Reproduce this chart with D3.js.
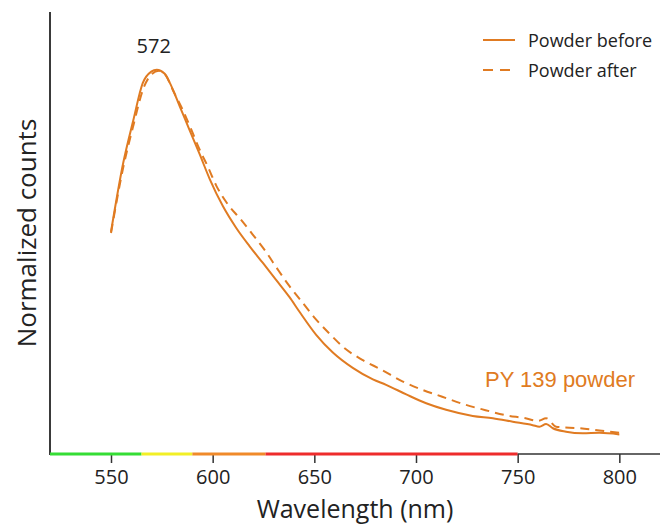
<!DOCTYPE html>
<html>
<head>
<meta charset="utf-8">
<script src="https://cdn.jsdelivr.net/npm/d3@7"></script>
<style>
  body { margin: 0; background: #fff; }
  svg { display: block; }
</style>
</head>
<body>
<div id="chart"></div>
<script>
// spectrum data (wavelength in nm, normalized counts)
var wlBefore  = [550, 556, 561, 565.6, 569.8, 572.5, 576.3, 579, 583.7, 588.7, 593.6, 598.5, 605, 611.6, 618.1, 624.7, 631.2, 637.8, 642.7, 650.9, 659.1, 668.9, 678.8, 685.3, 695.2, 705, 714.8, 727.9, 737.8, 747.6, 757.4, 760.7, 764, 767.3, 773.8, 782, 790.2, 800];
var cntBefore = [0.578, 0.757, 0.869, 0.965, 0.995, 1.0, 0.99, 0.965, 0.906, 0.842, 0.78, 0.716, 0.645, 0.588, 0.541, 0.497, 0.453, 0.408, 0.37, 0.31, 0.264, 0.224, 0.194, 0.18, 0.155, 0.132, 0.115, 0.099, 0.093, 0.084, 0.075, 0.071, 0.078, 0.067, 0.058, 0.054, 0.055, 0.051];

var wlAfter  = [550, 556, 561, 566, 570, 573.5, 577, 580.4, 585.3, 589.4, 593.5, 597.6, 601.7, 607.4, 614, 619.7, 626.2, 631.9, 637.6, 644.2, 650.7, 657.3, 665.4, 673.6, 683.5, 693.3, 703.1, 712.9, 724.4, 734.2, 744, 753.9, 760, 764, 768.9, 780.3, 790.2, 800];
var cntAfter = [0.575, 0.745, 0.855, 0.952, 0.988, 0.997, 0.985, 0.947, 0.895, 0.845, 0.793, 0.748, 0.699, 0.65, 0.609, 0.571, 0.526, 0.481, 0.438, 0.394, 0.351, 0.314, 0.273, 0.245, 0.218, 0.189, 0.167, 0.149, 0.128, 0.114, 0.101, 0.093, 0.086, 0.093, 0.071, 0.067, 0.061, 0.055];

var xTicks = [550, 600, 650, 700, 750, 800];

// visible-light colour bar along the x axis
var bandStart = [520, 565, 590, 626, 750];
var bandEnd   = [565, 590, 626, 750, 820];
var bandColor = ["#35dd35", "#f2ef26", "#f08a2a", "#ee2b2b", "#333333"];

var peakLabel = 572;
var lineColor = "#e07b22";

var width = 660, height = 524;
var margin = { top: 12, right: 0, bottom: 70, left: 50 };

var svg = d3.select("#chart")
  .append("svg")
  .attr("width", width)
  .attr("height", height);

var x = d3.scaleLinear().domain([520, 820]).range([margin.left, width - margin.right]);
var y = d3.scaleLinear().domain([0, 1.15]).range([height - margin.bottom, margin.top]);

var y0 = y(0);

// y axis (no ticks)
svg.append("line")
  .attr("x1", x(520)).attr("x2", x(520))
  .attr("y1", y(1.15)).attr("y2", y0 + 1)
  .style("stroke", "#3a3a3a").style("stroke-width", "2px");

// x axis ticks + labels
var xAxis = d3.axisBottom(x).tickValues(xTicks).tickSize(9).tickPadding(7).tickFormat(d3.format("d"));
var gx = svg.append("g")
  .attr("transform", "translate(0," + y0 + ")")
  .call(xAxis);
gx.select(".domain").remove();
gx.selectAll(".tick line").style("stroke", "#333").style("stroke-width", "1.5px");
gx.selectAll(".tick text")
  .style("font-family", "'Open Sans', sans-serif")
  .style("font-size", "20px")
  .style("fill", "#222");

// coloured axis line
svg.selectAll(".band")
  .data(bandStart)
  .enter()
  .append("line")
  .attr("class", "band")
  .attr("x1", function(d) { return x(d); })
  .attr("x2", function(d, i) { return x(bandEnd[i]); })
  .attr("y1", y0).attr("y2", y0)
  .style("stroke", function(d, i) { return bandColor[i]; })
  .style("stroke-width", function(d, i) { return i == 4 ? "1.5px" : "3px"; });

// spectra
var line = d3.line()
  .curve(d3.curveMonotoneX)
  .x(function(d) { return x(d[0]); })
  .y(function(d) { return y(d[1]); });

var before = wlBefore.map(function(w, i) { return [w, cntBefore[i]]; });
var after  = wlAfter.map(function(w, i) { return [w, cntAfter[i]]; });

svg.append("path")
  .datum(after)
  .attr("d", line)
  .attr("fill", "none")
  .attr("stroke", lineColor)
  .attr("stroke-width", 2)
  .style("stroke-dasharray", "9, 6");

svg.append("path")
  .datum(before)
  .attr("d", line)
  .attr("fill", "none")
  .attr("stroke", lineColor)
  .attr("stroke-width", 2);

// peak label
svg.append("text")
  .attr("x", x(peakLabel) - 2)
  .attr("y", 53)
  .attr("text-anchor", "middle")
  .text(peakLabel)
  .style("font-family", "'Open Sans', sans-serif")
  .style("font-size", "20px")
  .style("fill", "#222");

// Handmade legend
var legX = 483;
svg.append("line").attr("x1", legX).attr("x2", legX + 32).attr("y1", 40).attr("y2", 40)
  .style("stroke", lineColor).style("stroke-width", "2px");
svg.append("line").attr("x1", legX).attr("x2", legX + 32).attr("y1", 70).attr("y2", 70)
  .style("stroke", lineColor).style("stroke-width", "2px").style("stroke-dasharray", "10, 7");
svg.append("text").attr("x", legX + 45).attr("y", 40).text("Powder before")
  .attr("dominant-baseline", "central")
  .style("font-family", "'Open Sans', sans-serif").style("font-size", "18px").style("fill", "#222");
svg.append("text").attr("x", legX + 45).attr("y", 70).text("Powder after")
  .attr("dominant-baseline", "central")
  .style("font-family", "'Open Sans', sans-serif").style("font-size", "18px").style("fill", "#222");

// sample label
svg.append("text")
  .attr("x", 485).attr("y", 387)
  .text("PY 139 powder")
  .style("font-family", "'Liberation Sans', Arial, sans-serif")
  .style("font-size", "22px")
  .style("fill", lineColor);

// axis titles
svg.append("text")
  .attr("x", (x(520) + x(820)) / 2)
  .attr("y", 518)
  .attr("text-anchor", "middle")
  .text("Wavelength (nm)")
  .style("font-family", "'Open Sans', sans-serif")
  .style("font-size", "25px")
  .style("fill", "#222");

svg.append("text")
  .attr("transform", "translate(36," + 233 + ") rotate(-90)")
  .attr("text-anchor", "middle")
  .text("Normalized counts")
  .style("font-family", "'Open Sans', sans-serif")
  .style("font-size", "26px")
  .style("fill", "#222");
</script>
</body>
</html>
